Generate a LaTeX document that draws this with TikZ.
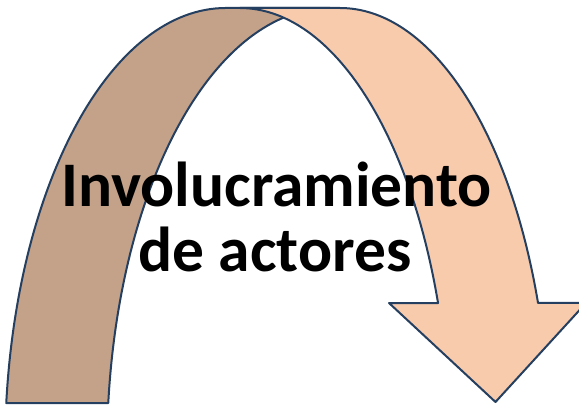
\documentclass[tikz,border=0pt]{standalone}
\usepackage{fontspec}
\setmainfont{Carlito}
\definecolor{backband}{HTML}{C4A189}
\definecolor{frontband}{HTML}{F8CBAD}
\definecolor{rim}{HTML}{243F60}
\begin{document}
\begin{tikzpicture}[x=1pt, y=1pt, line join=round, line width=2pt,
  band/.style={draw=rim},
  caption/.style={font=\bfseries\fontsize{63.5}{66}\selectfont, anchor=base, inner sep=0pt}]
\def\w{579}\def\h{405}
\def\a{210pt}\def\b{442pt}\def\t{19.43}
\useasboundingbox (0,0) rectangle (\w,\h);
\clip (0,0) rectangle (\w,\h);
% back half of the arrow
\filldraw[band, fill=backband] (6.25,1.9) arc[start angle=173.91, end angle=90, x radius=221pt, y radius=\b]
  -- (330,397) arc[start angle=90, end angle=173.91, x radius=223pt, y radius=\b] -- cycle;
% front half with the head
\coordinate (top) at (340,397);
\coordinate (tip) at (495.5,3);
\filldraw[band, fill=frontband] (240,397) -- (top) arc[start angle=90, end angle=\t, x radius=\a, y radius=\b]
  -- (586,102) -- (tip) -- (389,102) -- (438.04,102)
  arc[start angle=\t, end angle=90, x radius=\a, y radius=\b] -- cycle;
\node[caption] (title) at (276.5,198) {Involucramiento};
\node[caption] (sub) at (275,133) {de actores};
\end{tikzpicture}
\end{document}
